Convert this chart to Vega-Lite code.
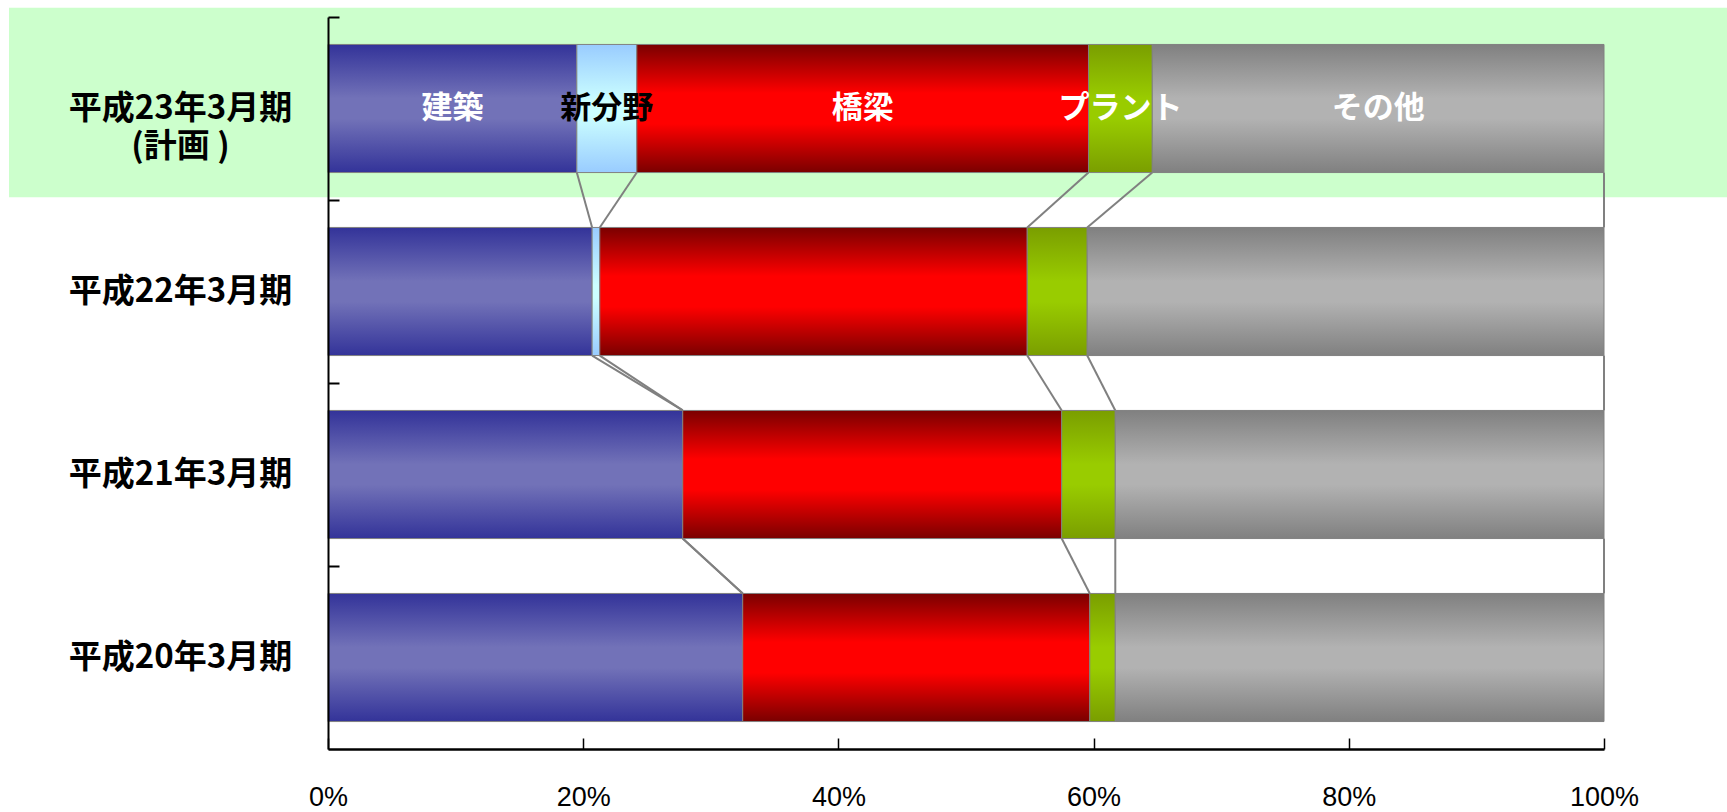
{
  "$schema": "https://vega.github.io/schema/vega-lite/v6.json",
  "width": 1276,
  "height": 732,
  "autosize": {"type": "none"},
  "padding": {"left": 328, "top": 17, "right": 123, "bottom": 63},
  "background": "white",
  "config": {"view": {"stroke": null}, "font": "Noto Sans CJK JP"},
  "data": {
    "values": [
      {"period": "平成23年3月期\n(計画 )", "segment": "建築", "share": 19.5},
      {"period": "平成23年3月期\n(計画 )", "segment": "新分野", "share": 4.7},
      {"period": "平成23年3月期\n(計画 )", "segment": "橋梁", "share": 35.4},
      {"period": "平成23年3月期\n(計画 )", "segment": "プラント", "share": 5.0},
      {"period": "平成23年3月期\n(計画 )", "segment": "その他", "share": 35.4},
      {"period": "平成22年3月期", "segment": "建築", "share": 20.7},
      {"period": "平成22年3月期", "segment": "新分野", "share": 0.6},
      {"period": "平成22年3月期", "segment": "橋梁", "share": 33.5},
      {"period": "平成22年3月期", "segment": "プラント", "share": 4.7},
      {"period": "平成22年3月期", "segment": "その他", "share": 40.5},
      {"period": "平成21年3月期", "segment": "建築", "share": 27.8},
      {"period": "平成21年3月期", "segment": "新分野", "share": 0},
      {"period": "平成21年3月期", "segment": "橋梁", "share": 29.7},
      {"period": "平成21年3月期", "segment": "プラント", "share": 4.2},
      {"period": "平成21年3月期", "segment": "その他", "share": 38.3},
      {"period": "平成20年3月期", "segment": "建築", "share": 32.5},
      {"period": "平成20年3月期", "segment": "新分野", "share": 0},
      {"period": "平成20年3月期", "segment": "橋梁", "share": 27.2},
      {"period": "平成20年3月期", "segment": "プラント", "share": 2.0},
      {"period": "平成20年3月期", "segment": "その他", "share": 38.3}
    ]
  },
  "transform": [
    {"calculate": "indexof(['建築','新分野','橋梁','プラント','その他'], datum.segment)", "as": "k"},
    {"stack": "share", "groupby": ["period"], "sort": [{"field": "k", "order": "ascending"}], "offset": "normalize", "as": ["x0", "x1"]}
  ],
  "layer": [
    {
      "transform": [{"filter": "datum.k === 0 && indexof(datum.period, '計画') >= 0"}],
      "mark": {"type": "bar", "fill": "#CCFFCC", "height": {"band": 1.48}, "yOffset": -6},
      "encoding": {
        "y": {"field": "period", "type": "nominal", "sort": "descending"},
        "x": {"datum": -0.25, "type": "quantitative"},
        "x2": {"datum": 1.2}
      }
    },
    {
      "transform": [
        {"window": [{"op": "lead", "field": "x1", "as": "nx"}, {"op": "lead", "field": "period", "as": "np"}], "groupby": ["segment"], "sort": [{"field": "period", "order": "descending"}], "frame": [null, null]},
        {"filter": "datum.np != null"}
      ],
      "mark": {"type": "rule", "stroke": "#808080", "strokeWidth": 2},
      "encoding": {
        "y": {"field": "period", "type": "nominal", "sort": "descending", "bandPosition": 1},
        "y2": {"field": "np", "bandPosition": 0},
        "x": {"field": "x1", "type": "quantitative"},
        "x2": {"field": "nx"}
      }
    },
    {
      "mark": {"type": "bar", "stroke": "#808080", "strokeWidth": 1},
      "encoding": {
        "y": {
          "field": "period", "type": "nominal", "sort": "descending",
          "scale": {"paddingInner": 0.3, "paddingOuter": 0.15},
          "axis": {
            "title": null,
            "zindex": 2,
            "labelExpr": "datum.value ? split(datum.value, '\\n') : ''",
            "labelFont": "Noto Sans CJK JP",
            "labelFontWeight": "bold",
            "labelFontSize": 33,
            "labelColor": "#000000",
            "labelAlign": "center",
            "labelBaseline": "middle",
            "labelPadding": 159,
            "labelLimit": 0,
            "labelLineHeight": 38,
            "bandPosition": 0,
            "tickExtra": false,
            "tickOffset": -27.45,
            "labelOffset": 27.45,
            "tickSize": -11,
            "tickColor": "#000000",
            "tickWidth": 2,
            "domainColor": "#000000",
            "domainWidth": 2
          }
        },
        "x": {
          "field": "x0", "type": "quantitative",
          "scale": {"domain": [0, 1]},
          "axis": {
            "title": null,
            "zindex": 2,
            "values": [0, 0.2, 0.4, 0.6, 0.8, 1],
            "format": ".0%",
            "grid": false,
            "labelFont": "Liberation Sans Narrow, Liberation Sans, Arial",
            "labelFontSize": 27,
            "labelColor": "#000000",
            "labelPadding": 46,
            "tickSize": -11,
            "tickColor": "#000000",
            "tickWidth": 1.5,
            "domainColor": "#000000",
            "domainWidth": 2.5,
            "labelFlush": false
          }
        },
        "x2": {"field": "x1"},
        "fill": {
          "condition": [
            {"test": "datum.segment === '建築'", "value": {"gradient": "linear", "x1": 0, "y1": 0, "x2": 0, "y2": 1, "stops": [{"offset": 0, "color": "#333399"}, {"offset": 0.42, "color": "#7272B8"}, {"offset": 0.58, "color": "#7272B8"}, {"offset": 1, "color": "#333399"}]}},
            {"test": "datum.segment === '新分野'", "value": {"gradient": "linear", "x1": 0, "y1": 0, "x2": 0, "y2": 1, "stops": [{"offset": 0, "color": "#99CCFF"}, {"offset": 0.45, "color": "#CCFFFF"}, {"offset": 0.55, "color": "#CCFFFF"}, {"offset": 1, "color": "#99CCFF"}]}},
            {"test": "datum.segment === '橋梁'", "value": {"gradient": "linear", "x1": 0, "y1": 0, "x2": 0, "y2": 1, "stops": [{"offset": 0, "color": "#7A0000"}, {"offset": 0.38, "color": "#FF0000"}, {"offset": 0.62, "color": "#FF0000"}, {"offset": 1, "color": "#7A0000"}]}},
            {"test": "datum.segment === 'プラント'", "value": {"gradient": "linear", "x1": 0, "y1": 0, "x2": 0, "y2": 1, "stops": [{"offset": 0, "color": "#7A9E00"}, {"offset": 0.42, "color": "#99CC00"}, {"offset": 0.58, "color": "#99CC00"}, {"offset": 1, "color": "#7A9E00"}]}}
          ],
          "value": {"gradient": "linear", "x1": 0, "y1": 0, "x2": 0, "y2": 1, "stops": [{"offset": 0, "color": "#808080"}, {"offset": 0.42, "color": "#B2B2B2"}, {"offset": 0.58, "color": "#B2B2B2"}, {"offset": 1, "color": "#808080"}]}
        }
      }
    },
    {
      "transform": [
        {"filter": "indexof(datum.period, '計画') >= 0"},
        {"calculate": "(datum.x0 + datum.x1) / 2", "as": "mid"}
      ],
      "mark": {"type": "text", "font": "Noto Sans CJK JP", "fontWeight": "bold", "fontSize": 31, "baseline": "middle", "align": "center"},
      "encoding": {
        "y": {"field": "period", "type": "nominal", "sort": "descending"},
        "x": {"field": "mid", "type": "quantitative"},
        "text": {"field": "segment"},
        "color": {"condition": {"test": "datum.segment === '新分野'", "value": "#000000"}, "value": "#FFFFFF"}
      }
    }
  ]
}
